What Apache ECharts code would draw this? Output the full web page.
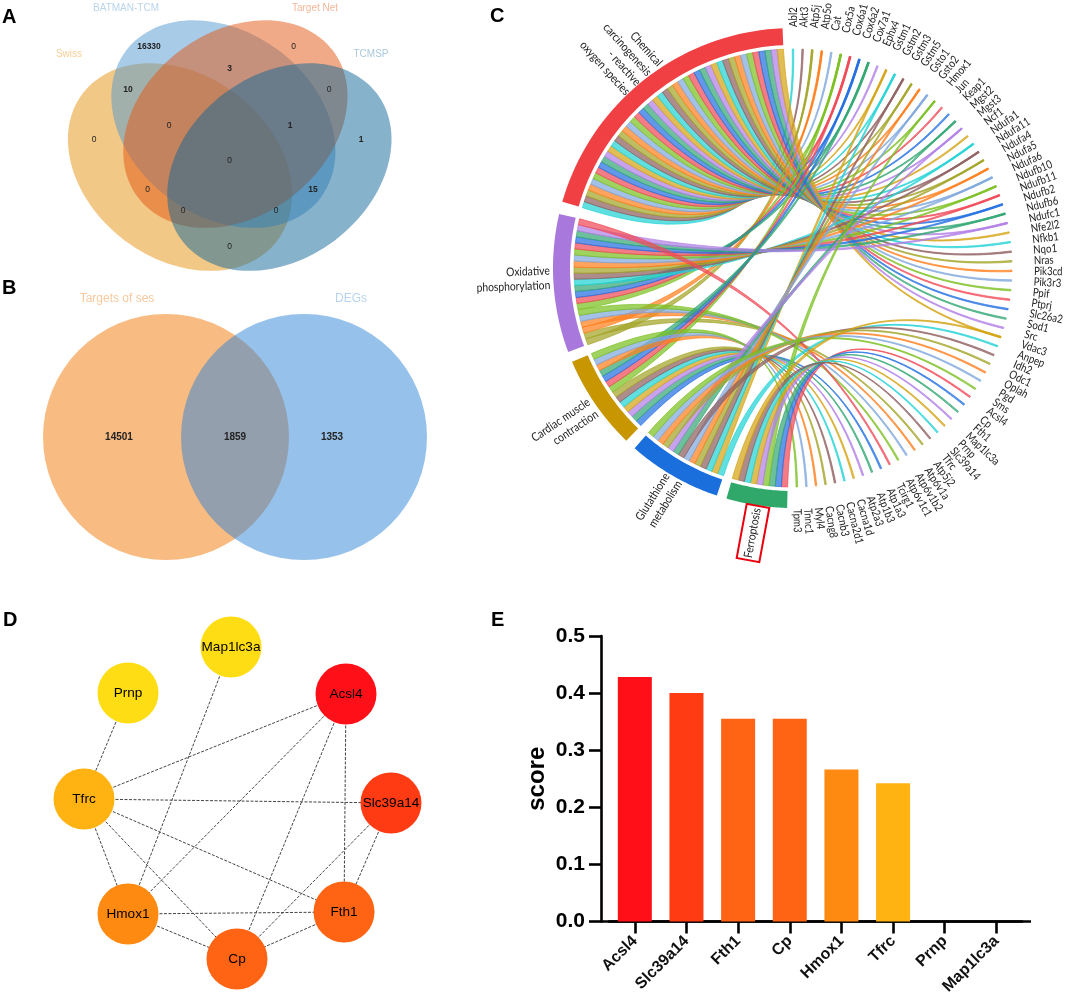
<!DOCTYPE html>
<html><head><meta charset="utf-8">
<style>html,body{margin:0;padding:0;background:#fff}#c{width:1065px;height:1000px}</style>
<script src="https://cdn.jsdelivr.net/npm/echarts@6/dist/echarts.min.js"></script>
</head><body><div id="c"></div>
<script>
// ---------- DATA ----------
const vennSets = ['Swiss', 'BATMAN-TCM', 'Target Net', 'TCMSP'];
const vennCounts = [0, 16330, 0, 1, 10, 3, 0, 0, 1, 0, 0, 15, 0, 0, 0];
const twoSets = ['Targets of ses', 'DEGs'];
const twoCounts = [14501, 1859, 1353];
const pathways = ['Chemical\ncarcinogenesis\n- reactive\noxygen species', 'Oxidative\nphosphorylation', 'Cardiac muscle\ncontraction', 'Glutathione\nmetabolism', 'Ferroptosis'];
const genes = ['Abl2','Akt3','Atp5j','Atp5o','Cat','Cox5a','Cox6a1','Cox6a2','Cox7a1','Ephx4','Gstm1','Gstm2','Gstm3','Gstm5','Gsto1','Gsto2','Hmox1','Jun','Keap1','Mgst2','Mgst3','Ncf1','Ndufa1','Ndufa11','Ndufa4','Ndufa5','Ndufa6','Ndufb10','Ndufb11','Ndufb2','Ndufb6','Ndufc1','Nfe2l2','Nfkb1','Nqo1','Nras','Pik3cd','Pik3r3','Ppif','Ptprj','Slc26a2','Sod1','Src','Vdac3','Anpep','Idh2','Odc1','Oplah','Pgd','Sms','Acsl4','Cp','Fth1','Map1lc3a','Prnp','Slc39a14','Tfrc','Atp5j2','Atp6v1a','Atp6v1b2','Atp6v1c1','Tcirg1','Atp1a3','Atp1b3','Atp2a3','Cacna1d','Cacna2d1','Cacnb3','Cacng8','Myl4','Tnnc1','Tpm3'];
const chemicalGenes = genes.slice(0, 44);
const oxphosGenes = ['Atp5j','Atp5j2','Atp5o','Atp6v1a','Atp6v1b2','Atp6v1c1','Cox5a','Cox6a1','Cox6a2','Cox7a1','Ndufa1','Ndufa11','Ndufa4','Ndufa5','Ndufa6','Ndufb10','Ndufb11','Ndufb2','Ndufb6','Ndufc1','Tcirg1'];
const cardiacGenes = ['Atp1a3','Atp1b3','Atp2a3','Cacna1d','Cacna2d1','Cacnb3','Cacng8','Cox5a','Cox6a1','Cox6a2','Cox7a1','Myl4','Tnnc1','Tpm3'];
const glutathioneGenes = ['Anpep','Gstm1','Gstm2','Gstm3','Gstm5','Gsto1','Gsto2','Idh2','Mgst2','Mgst3','Odc1','Oplah','Pgd','Sms'];
const ferroptosisGenes = ['Acsl4','Cp','Fth1','Hmox1','Map1lc3a','Prnp','Slc39a14','Tfrc','Vdac3'];
const netNodes = ['Map1lc3a','Acsl4','Slc39a14','Fth1','Cp','Hmox1','Tfrc','Prnp'];
const netEdges = [['Prnp','Tfrc'],['Map1lc3a','Hmox1'],['Acsl4','Tfrc'],['Acsl4','Hmox1'],['Acsl4','Cp'],['Acsl4','Fth1'],['Tfrc','Slc39a14'],['Tfrc','Fth1'],['Tfrc','Cp'],['Tfrc','Hmox1'],['Slc39a14','Fth1'],['Slc39a14','Cp'],['Hmox1','Fth1'],['Hmox1','Cp'],['Fth1','Cp']];
const scoreGenes = ['Acsl4','Slc39a14','Fth1','Cp','Hmox1','Tfrc','Prnp','Map1lc3a'];
const scoreValues = [0.428, 0.4, 0.355, 0.355, 0.266, 0.242, 0, 0];
const scoreTicks = ['0.0','0.1','0.2','0.3','0.4','0.5'];

// ---------- LAYOUT & STYLE ----------
const FONT = 'Liberation Sans', HUM = 'Lato';
const vennEll = [
  {c:[180,167], rot:-37, col:'rgba(229,145,15,0.5)'},
  {c:[223.5,124], rot:-37, col:'rgba(81,151,209,0.5)'},
  {c:[235.5,124], rot:37, col:'rgba(225,85,15,0.5)'},
  {c:[279.5,167], rot:37, col:'rgba(15,101,151,0.5)'}
];
const ellA = 122, ellB = 92;
const vennSetPos = [[69,54,'#f6cf95'],[126,8,'#b9d4ec'],[315,8,'#f2b79a'],[371,54,'#a9c8da']];
const vennCountPos = [[94,140],[149,47],[293.5,47],[361,140],[128,90],[229.5,69],[329,90],[169,126],[290,126],[229.5,161],[147.5,190],[313,190],[183,211],[276,211],[229.5,247]];
const circles = [{c:[166,437],r:123,col:'rgba(243,142,47,0.6)'},{c:[304,437],r:123,col:'rgba(45,131,213,0.5)'}];
const twoSetPos = [[117,299,'#f6c99c'],[351,299,'#b5d3ef']];
const twoCountPos = [[119,437],[235,437],[332,437]];
const CX = 793, CY = 268;
const R_OUT = 240, R_IN = 223, R_LINK = 219, R_LABEL = 241;
const sectorArcs = [[-74,-2.5],[-110.5,-77],[-136,-113],[-161.5,-138.7],[-178.6,-163.9]];
const sectorCols = ['#F04044','#A878DC','#C89600','#1A6FDC','#2FA86A'];
const sectorGenes = [chemicalGenes, oxphosGenes, cardiacGenes, glutathioneGenes, ferroptosisGenes];
const sectorCtrl = [[797,278],[793,276],[793,268],[793,268],[793,268]];
const sectorLabelPos = [
  {p:[644,79],rot:-48,h:14.5},{p:[550,278],rot:2,h:14.5},{p:[593,407],rot:34,h:14.5},{p:[673,478],rot:58,h:14.5},{p:[752.5,533],rot:79.5,h:14.5}
];
const palette = ['#22d2d6','#8f5f5f','#a3a528','#ff7f1e','#7fa8dc','#7cc023','#f04a58','#2470e2','#34a874','#b27fe6','#d4a414'];
const geneStep = 179/71;
const letters = [['A',2,17],['B',2,288],['C',490,16],['D',3,620],['E',491,620]];
const nodePos = {Map1lc3a:[231,647],Acsl4:[346,694],Slc39a14:[391,803],Fth1:[344,912],Cp:[237,959],Hmox1:[128,914],Tfrc:[84,799],Prnp:[128,693]};
const nodeCol = {Map1lc3a:'#FFDD15',Prnp:'#FFDD15',Acsl4:'#FF1018',Slc39a14:'#FF3B14',Fth1:'#FF6314',Cp:'#FF6314',Hmox1:'#FF8A12',Tfrc:'#FFB312'};

// ---------- GEOMETRY ----------
const rad = d => d*Math.PI/180;
const polar = (deg,r) => [CX + r*Math.sin(rad(deg)), CY - r*Math.cos(rad(deg))];
function quad(p0,c,p1,n){const o=[];for(let i=0;i<=n;i++){const t=i/n,u=1-t;o.push([u*u*p0[0]+2*u*t*c[0]+t*t*p1[0],u*u*p0[1]+2*u*t*c[1]+t*t*p1[1]]);}return o;}
const ribbons = [];
sectorGenes.forEach((list,s)=>{
  const [a0,a1]=sectorArcs[s], w=(a1-a0)/list.length;
  list.forEach((g,k)=>{
    const idx=genes.indexOf(g);
    ribbons.push({s:a0+k*w,e:a0+(k+1)*w,g:idx*geneStep,col:palette[idx%11],c:sectorCtrl[s]});
  });
});
function ribbonPts(r){
  const tip=0.2;
  const a=quad(polar(r.s,R_LINK),r.c,polar(r.g+tip,R_LINK),36);
  const b=quad(polar(r.g-tip,R_LINK),r.c,polar(r.e,R_LINK),36);
  return a.concat(b);
}
function withAlpha(hex,al){const n=parseInt(hex.slice(1),16);return `rgba(${n>>16},${(n>>8)&255},${n&255},${al})`;}

// ---------- HELPER SERIES on 1:1 hidden cartesian ----------
const shapes = [];
vennEll.forEach(e=>shapes.push({k:'ell',e}));
circles.forEach(c=>shapes.push({k:'cir',c}));
ribbons.forEach(r=>shapes.push({k:'rib',r}));
sectorArcs.forEach((a,i)=>shapes.push({k:'sec',a,col:sectorCols[i]}));
shapes.push({k:'box'});
shapes.push({k:'axis'});

const texts = [];
vennSets.forEach((t,i)=>texts.push({t,p:vennSetPos[i],size:10,col:vennSetPos[i][2]}));
vennCounts.forEach((v,i)=>texts.push({t:String(v),p:vennCountPos[i],size:8.5,col:'#222',w:v?'bold':'normal'}));
twoSets.forEach((t,i)=>texts.push({t,p:twoSetPos[i],size:12,col:twoSetPos[i][2]}));
twoCounts.forEach((v,i)=>texts.push({t:String(v),p:twoCountPos[i],size:10,col:'#222',w:'bold'}));
letters.forEach(l=>texts.push({t:l[0],p:[l[1],l[2]],size:20,col:'#000',w:'bold',al:'left'}));
pathways.forEach((t,i)=>{const q=sectorLabelPos[i];texts.push({t,p:q.p,size:12,col:'#222',rot:q.rot,al:i==4?'center':'right',lh:q.h,ff:HUM,sx:0.86});});
genes.forEach((t,i)=>{const d=i*geneStep;texts.push({t,p:polar(d,R_LABEL),size:11.5,col:'#222',rot:90-d,al:'left',ff:HUM,sx:0.84});});

function renderShape(params,api){
  const o=shapes[api.value(0)];
  const sz=api.size([1,1]);
  if(o.k==='ell'){const p=api.coord(o.e.c);return {type:'ellipse',x:p[0],y:p[1],rotation:rad(o.e.rot),shape:{cx:0,cy:0,rx:ellA*sz[0],ry:ellB*sz[1]},style:{fill:o.e.col}};}
  if(o.k==='cir'){const p=api.coord(o.c.c);return {type:'circle',shape:{cx:p[0],cy:p[1],r:o.c.r*sz[0]},style:{fill:o.c.col}};}
  if(o.k==='rib'){const pts=ribbonPts(o.r).map(q=>api.coord(q));return {type:'polygon',shape:{points:pts},style:{fill:withAlpha(o.r.col,0.72),stroke:withAlpha(o.r.col,1),lineWidth:0.7}};}
  if(o.k==='sec'){const pts=[];const n=40;for(let i=0;i<=n;i++)pts.push(api.coord(polar(o.a[0]+(o.a[1]-o.a[0])*i/n,R_OUT)));for(let i=n;i>=0;i--)pts.push(api.coord(polar(o.a[0]+(o.a[1]-o.a[0])*i/n,R_IN)));return {type:'polygon',shape:{points:pts},style:{fill:o.col}};}
  if(o.k==='box'){const p=api.coord([753,533]);return {type:'rect',x:p[0],y:p[1],rotation:rad(79.5),shape:{x:-27.5,y:-11.5,width:55,height:23},style:{fill:'none',stroke:'#e8000f',lineWidth:2}};}
  if(o.k==='axis'){const a=api.coord([601,921.5]),b=api.coord([1031,921.5]);return {type:'line',shape:{x1:a[0],y1:a[1],x2:b[0],y2:b[1]},style:{stroke:'#000',lineWidth:2.6}};}
}
function renderText(params,api){
  const o=texts[api.value(0)];
  const p=api.coord(o.p);
  return {type:'text',x:p[0],y:p[1],rotation:rad(o.rot||0),scaleX:o.sx||1,scaleY:1,style:{text:o.t,fill:o.col,fontFamily:o.ff||FONT,fontSize:o.size,fontWeight:o.w||'normal',align:o.al||'center',verticalAlign:'middle',lineHeight:o.lh}};
}

const option = {
  animation:false, backgroundColor:'#fff',
  grid:[
    {left:0,top:0,width:1065,height:1000,show:false},
    {left:609,top:636,width:413.2,height:285.5,show:false}
  ],
  xAxis:[
    {gridIndex:0,type:'value',min:0,max:1065,show:false},
    {gridIndex:1,type:'category',data:scoreGenes,boundaryGap:true,
     axisLine:{show:true,onZero:false,lineStyle:{color:'#000',width:2.6}},
     axisTick:{show:true,alignWithLabel:true,length:12,lineStyle:{color:'#000',width:2.6}},
     axisLabel:{rotate:45,interval:0,margin:17,fontFamily:FONT,fontWeight:'bold',fontSize:16,color:'#111'},
     splitLine:{show:false}}
  ],
  yAxis:[
    {gridIndex:0,type:'value',min:0,max:1000,inverse:true,show:false},
    {gridIndex:1,type:'value',min:0,max:0.5,interval:0.1,offset:8,
     name:'score',nameLocation:'middle',nameGap:52,nameRotate:90,
     nameTextStyle:{fontFamily:FONT,fontWeight:'bold',fontSize:24,color:'#000'},
     axisLine:{show:true,lineStyle:{color:'#000',width:2.6}},
     axisTick:{show:true,length:12,lineStyle:{color:'#000',width:2.6}},
     axisLabel:{margin:16,fontFamily:FONT,fontWeight:'bold',fontSize:21,color:'#000',formatter:v=>scoreTicks[Math.round(v*10)]},
     splitLine:{show:false}}
  ],
  series:[
    {type:'custom',coordinateSystem:'cartesian2d',xAxisIndex:0,yAxisIndex:0,silent:true,z:1,clip:false,
     renderItem:renderShape,data:shapes.map((s,i)=>[i]),encode:{x:-1,y:-1}},
    {type:'graph',layout:'none',coordinateSystem:'cartesian2d',xAxisIndex:0,yAxisIndex:0,silent:true,z:2,
     symbolSize:61,roam:false,
     data:netNodes.map(n=>({name:n,value:nodePos[n],itemStyle:{color:nodeCol[n]}})),
     links:netEdges.map(e=>({source:e[0],target:e[1]})),
     lineStyle:{color:'#444',width:1,type:[3,1.5],opacity:1,curveness:0},
     label:{show:true,position:'inside',color:'#000',fontFamily:FONT,fontSize:13.6,formatter:'{b}'}},
    {type:'bar',xAxisIndex:1,yAxisIndex:1,barWidth:34,z:2,data:scoreValues.map((v,i)=>({value:v,itemStyle:{color:nodeCol[scoreGenes[i]]}}))},
    {type:'custom',coordinateSystem:'cartesian2d',xAxisIndex:0,yAxisIndex:0,silent:true,z:5,clip:false,
     renderItem:renderText,data:texts.map((s,i)=>[i]),encode:{x:-1,y:-1}}
  ]
};
const chart = echarts.init(document.getElementById('c'));
chart.setOption(option);
</script></body></html>
